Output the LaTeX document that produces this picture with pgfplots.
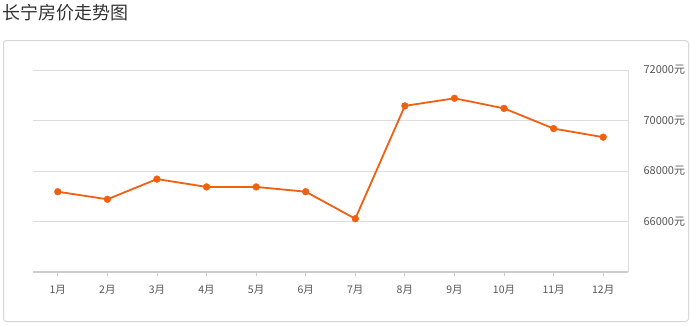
\documentclass[border=0pt]{standalone}
\usepackage{pgfplots}
\pgfplotsset{compat=1.18}
\usepackage{fontspec}
\setmainfont{Noto Sans CJK SC}
\definecolor{lineorange}{RGB}{240,96,16}
\definecolor{gridgray}{RGB}{221,221,221}
\definecolor{axisgray}{RGB}{204,204,204}
\definecolor{labelgray}{RGB}{85,85,85}
\definecolor{framegray}{RGB}{215,215,215}
\begin{document}
\begin{tikzpicture}[x=1pt,y=1pt]
\useasboundingbox (0,0) rectangle (690,325);
\draw[framegray, rounded corners=3pt, line width=1pt] (3.5,3.5) rectangle (688.5,284.5);
\node[anchor=west, text=black!80, font=\fontsize{18}{18}\selectfont, inner sep=0] at (2,312) {长宁房价走势图};
\begin{axis}[
  at={(33pt,53pt)}, anchor=south west,
  scale only axis, width=595pt, height=202pt,
  xmin=0.5, xmax=12.5, ymin=64000, ymax=72000,
  scaled y ticks=false,
  axis x line*=bottom, axis y line*=right,
  x axis line style={draw=axisgray, line width=1.8pt, -},
  y axis line style={draw=gridgray, line width=1pt, -},
  ytick={66000,68000,70000,72000},
  yticklabels={66000元,68000元,70000元,72000元},
  xtick={1,...,12},
  xticklabels={1月,2月,3月,4月,5月,6月,7月,8月,9月,10月,11月,12月},
  ymajorgrids, grid style={draw=gridgray, line width=0.8pt},
  tick align=outside,
  x tick style={draw=axisgray, line width=0.8pt},
  y tick style={draw=none},
  major tick length=4pt,
  yticklabel style={anchor=west, xshift=8pt, text=labelgray, font=\fontsize{11}{11}\selectfont},
  xticklabel style={yshift=-6pt, text=labelgray, font=\fontsize{10.5}{10.5}\selectfont},
  clip=false,
]
\addplot[color=lineorange, line width=1.8pt, mark=*, mark size=3.4pt, mark options={solid, fill=lineorange, draw=lineorange, line width=0.4pt}]
coordinates {(1,67180) (2,66880) (3,67680) (4,67370) (5,67370) (6,67180) (7,66110) (8,70580) (9,70880) (10,70480) (11,69680) (12,69340)};
\end{axis}
\end{tikzpicture}
\end{document}
